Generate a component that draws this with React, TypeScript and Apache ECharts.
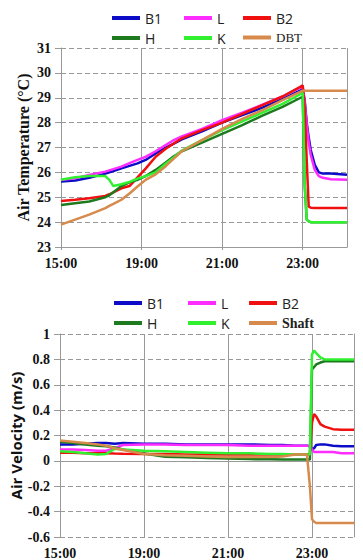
import React, { useEffect, useRef } from "react";
import * as echarts from "echarts";

// x values are hours after the first labelled tick
const tickLabels = ["15:00", "19:00", "21:00", "23:00"];

const hoursTop = [0, 0.35, 0.7, 1.1, 1.2, 1.3, 1.5, 1.7, 1.9, 2.1, 2.35, 2.6, 2.8, 3.0, 3.5, 4.0, 4.5, 5.0, 5.5, 5.95, 6.0, 6.05, 6.1, 6.15, 6.2, 6.3, 6.4, 6.5, 6.7, 7.1];
const tempB1 = [25.63, 25.67, 25.78, 25.95, 26.0, 26.05, 26.16, 26.26, 26.36, 26.5, 26.76, 27.0, 27.16, 27.33, 27.65, 28.0, 28.3, 28.6, 28.95, 29.3, 29.35, 28.9, 28.0, 27.4, 26.9, 26.3, 26.0, 25.95, 25.95, 25.9];
const tempL = [25.69, 25.76, 25.9, 26.03, 26.08, 26.13, 26.23, 26.37, 26.5, 26.62, 26.85, 27.1, 27.3, 27.45, 27.75, 28.1, 28.4, 28.72, 29.05, 29.42, 29.48, 28.8, 27.9, 27.2, 26.7, 26.1, 25.85, 25.78, 25.72, 25.7];
const tempB2 = [24.85, 24.9, 24.96, 25.05, 25.12, 25.2, 25.36, 25.45, 25.8, 26.15, 26.63, 26.95, 27.16, 27.37, 27.7, 28.0, 28.35, 28.7, 29.05, 29.45, 29.5, 28.6, 26.5, 24.62, 24.58, 24.57, 24.57, 24.57, 24.57, 24.57];
const tempH = [24.69, 24.76, 24.83, 25.0, 25.08, 25.2, 25.45, 25.6, 25.7, 25.85, 26.1, 26.4, 26.65, 26.85, 27.2, 27.55, 27.9, 28.28, 28.63, 29.0, 29.05, 25.5, 24.1, 24.03, 24.0, 24.0, 24.0, 24.0, 24.0, 24.0];
const tempK = [25.7, 25.8, 25.85, 25.85, 25.7, 25.45, 25.52, 25.62, 25.75, 25.85, 26.0, 26.35, 26.6, 26.88, 27.3, 27.7, 28.05, 28.4, 28.75, 29.15, 29.2, 25.5, 24.1, 24.03, 24.0, 24.0, 24.0, 24.0, 24.0, 24.0];
const tempDBT = [23.9, 24.1, 24.3, 24.56, 24.65, 24.73, 24.9, 25.15, 25.43, 25.7, 25.92, 26.25, 26.55, 26.85, 27.3, 27.75, 28.15, 28.5, 28.9, 29.25, 29.28, 29.28, 29.28, 29.28, 29.28, 29.28, 29.28, 29.28, 29.28, 29.28];

const hoursBottom = [0, 0.3, 0.6, 0.9, 1.1, 1.3, 1.5, 2.0, 2.5, 3.0, 3.5, 4.0, 4.5, 5.0, 5.3, 5.6, 5.88, 5.95, 6.0, 6.05, 6.1, 6.2, 6.3, 6.5, 6.7, 7.0];
const velB1 = [0.13, 0.13, 0.135, 0.14, 0.14, 0.135, 0.14, 0.135, 0.135, 0.13, 0.13, 0.13, 0.13, 0.125, 0.125, 0.12, 0.12, 0.115, 0.09, 0.1, 0.125, 0.13, 0.13, 0.12, 0.115, 0.115];
const velL = [0.09, 0.09, 0.085, 0.08, 0.08, 0.1, 0.125, 0.13, 0.13, 0.125, 0.125, 0.125, 0.12, 0.12, 0.12, 0.12, 0.12, 0.115, 0.09, 0.07, 0.07, 0.07, 0.07, 0.07, 0.06, 0.06];
const velB2 = [0.065, 0.065, 0.06, 0.06, 0.06, 0.058, 0.057, 0.055, 0.055, 0.05, 0.05, 0.05, 0.05, 0.05, 0.05, 0.05, 0.05, 0.05, 0.3, 0.37, 0.35, 0.29, 0.27, 0.25, 0.245, 0.245];
const velH = [0.15, 0.14, 0.13, 0.12, 0.115, 0.105, 0.09, 0.058, 0.033, 0.028, 0.022, 0.018, 0.014, 0.012, 0.01, 0.01, 0.01, 0.01, 0.72, 0.74, 0.76, 0.775, 0.785, 0.785, 0.785, 0.785];
const velK = [0.075, 0.07, 0.06, 0.05, 0.055, 0.095, 0.09, 0.08, 0.075, 0.07, 0.065, 0.06, 0.06, 0.055, 0.055, 0.05, 0.05, 0.05, 0.84, 0.87, 0.85, 0.815, 0.8, 0.8, 0.8, 0.8];
const velShaft = [0.16, 0.15, 0.14, 0.13, 0.12, 0.1, 0.085, 0.055, 0.045, 0.04, 0.035, 0.03, 0.03, 0.03, 0.035, 0.05, 0.05, -0.2, -0.46, -0.48, -0.49, -0.49, -0.49, -0.49, -0.49, -0.49];

const COLORS: Record<string, string> = {
  B1: "#0b0bc8",
  L: "#ff2cff",
  B2: "#f01010",
  H: "#1e7a1e",
  K: "#30f030",
  DBT: "#d68a4c",
  Shaft: "#d68a4c",
};

const GRAY = "#999999";
const SERIF = "'Liberation Serif', 'Times New Roman', serif";
const SANS = "'Open Sans', 'DejaVu Sans', sans-serif";

function pairs(xs: number[], ys: number[]) {
  return xs.map((x, i) => [x, ys[i]]);
}

function makeSeries(name: string, xs: number[], ys: number[], idx: number) {
  return {
    name,
    type: "line",
    xAxisIndex: idx,
    yAxisIndex: idx * 2,
    data: pairs(xs, ys),
    showSymbol: false,
    symbol: "none",
    lineStyle: { width: 2.5, color: COLORS[name] },
    itemStyle: { color: COLORS[name] },
  };
}

function legendCol(names: string[], left: number, top: number) {
  return {
    orient: "vertical",
    left,
    top,
    padding: 0,
    itemGap: 6,
    itemWidth: 28,
    itemHeight: 4,
    icon: "rect",
    data: names,
    selectedMode: false,
    textStyle: {
      fontFamily: SANS,
      fontSize: 14,
      color: "#222",
      rich: {
        s: { fontFamily: SERIF, fontSize: 13, color: "#222" },
        b: { fontFamily: SERIF, fontSize: 14, fontWeight: "bold", color: "#222" },
      },
    },
    formatter: (n: string) => (n === "DBT" ? "{s|DBT}" : n === "Shaft" ? "{b|Shaft}" : n),
  };
}

function xAxisFor(gridIndex: number, max: number) {
  return {
    type: "value",
    gridIndex,
    min: 0,
    max,
    interval: 2,
    axisLine: { show: true, lineStyle: { color: GRAY, width: 1 } },
    axisTick: { show: true, length: 3, lineStyle: { color: GRAY } },
    splitLine: { show: true, lineStyle: { color: GRAY, width: 1, type: "solid" } },
    axisLabel: {
      showMaxLabel: false,
      margin: 9,
      fontFamily: SERIF,
      fontWeight: "bold",
      fontSize: 14,
      color: "#111",
      formatter: (v: number) => tickLabels[Math.round(v / 2)] ?? "",
    },
  };
}

function yAxisFor(gridIndex: number, min: number, max: number, interval: number, name: string, nameFont: any, nameGap: number) {
  return {
    type: "value",
    gridIndex,
    min,
    max,
    interval,
    name,
    nameLocation: "middle",
    nameGap,
    nameMoveOverlap: false,
    nameTextStyle: nameFont,
    axisLine: { show: true, lineStyle: { color: GRAY, width: 1 } },
    axisTick: { show: true, length: 6, lineStyle: { color: GRAY } },
    splitLine: { show: true, lineStyle: { color: GRAY, width: 1, type: [5, 3] } },
    axisLabel: {
      margin: 10,
      fontFamily: SERIF,
      fontWeight: "bold",
      fontSize: 14,
      color: "#111",
    },
  };
}

function rightBorder(gridIndex: number, min: number, max: number) {
  return {
    type: "value",
    gridIndex,
    position: "right",
    min,
    max,
    axisLine: { show: true, lineStyle: { color: GRAY, width: 1, type: [5, 3] } },
    axisTick: { show: false },
    axisLabel: { show: false },
    splitLine: { show: false },
  };
}

export default function App() {
  const ref = useRef<HTMLDivElement>(null);

  useEffect(() => {
    document.body.style.margin = "0";
    if (!ref.current) return;
    const chart = echarts.init(ref.current, undefined, { renderer: "svg" });
    chart.setOption({
      animation: false,
      backgroundColor: "#ffffff",
      grid: [
        { left: 61, right: 16, top: 48, height: 199 },
        { left: 57, right: 9, top: 334, height: 205 },
      ],
      legend: [
        legendCol(["B1", "H"], 112, 11),
        legendCol(["L", "K"], 184, 11),
        legendCol(["B2", "DBT"], 243, 11),
        legendCol(["B1", "H"], 114, 296),
        legendCol(["L", "K"], 188, 296),
        legendCol(["B2", "Shaft"], 249, 296),
      ],
      xAxis: [xAxisFor(0, 7.1), xAxisFor(1, 7.0)],
      yAxis: [
        yAxisFor(0, 23, 31, 1, "Air Temperature (°C)", { fontFamily: SERIF, fontWeight: "bold", fontSize: 16, color: "#111" }, 30),
        rightBorder(0, 23, 31),
        yAxisFor(1, -0.6, 1, 0.2, "Air Velocity (m/s)", { fontFamily: SANS, fontWeight: "bold", fontSize: 15, color: "#111" }, 37),
        rightBorder(1, -0.6, 1),
      ],
      series: [
        makeSeries("B1", hoursTop, tempB1, 0),
        makeSeries("L", hoursTop, tempL, 0),
        makeSeries("B2", hoursTop, tempB2, 0),
        makeSeries("H", hoursTop, tempH, 0),
        makeSeries("K", hoursTop, tempK, 0),
        makeSeries("DBT", hoursTop, tempDBT, 0),
        makeSeries("B1", hoursBottom, velB1, 1),
        makeSeries("L", hoursBottom, velL, 1),
        makeSeries("B2", hoursBottom, velB2, 1),
        makeSeries("H", hoursBottom, velH, 1),
        makeSeries("K", hoursBottom, velK, 1),
        makeSeries("Shaft", hoursBottom, velShaft, 1),
      ],
    });
    return () => chart.dispose();
  }, []);

  return <div ref={ref} style={{ width: 363, height: 560 }} />;
}
